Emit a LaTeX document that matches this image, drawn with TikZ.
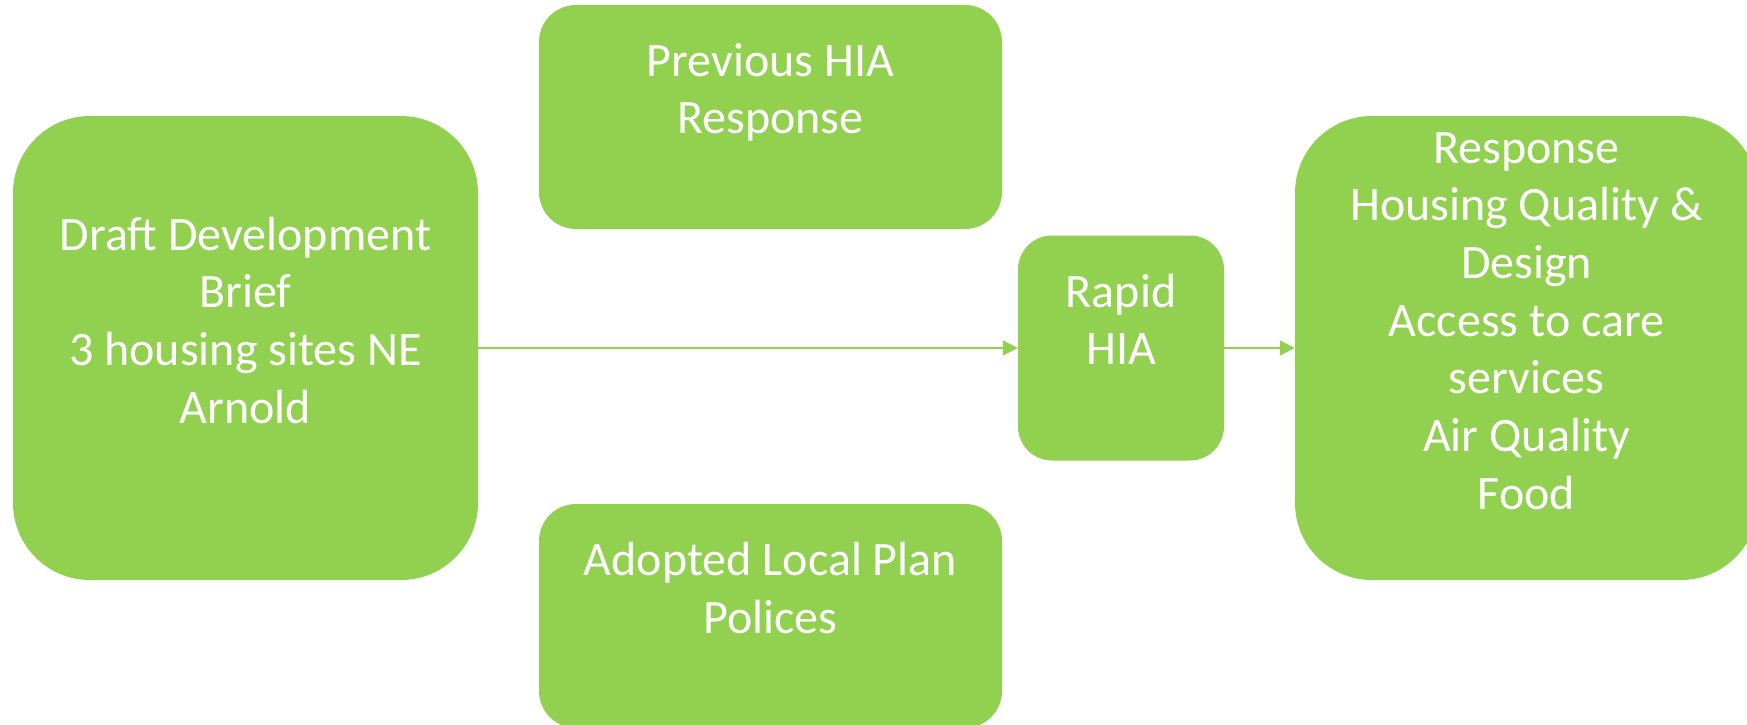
\documentclass[tikz,border=0pt]{standalone}
\usepackage{fontspec}
\setmainfont{Carlito}
\usetikzlibrary{arrows.meta}
\definecolor{hiagreen}{HTML}{92D050}
\begin{document}
\begin{tikzpicture}[x=1pt,y=-1pt,
  box/.style={fill=hiagreen,draw=none,rectangle,inner sep=0pt},
  txt/.style={text=white,align=center,inner sep=0pt,anchor=north,font=\fontsize{48pt}{57.7pt}\selectfont},
  conn/.style={draw=hiagreen,line width=2pt,-{Triangle[length=15pt,width=15pt]}}]
\useasboundingbox (0,0) rectangle (1747,725);
\clip (0,0) rectangle (1747,725);
\node[box,minimum width=465pt,minimum height=464pt,rounded corners=77pt] (brief) at (245.5,348) {};
\node[box,minimum width=463pt,minimum height=224pt,rounded corners=37pt] (prev) at (770.5,117) {};
\node[box,minimum width=463pt,minimum height=224pt,rounded corners=37pt] (adopted) at (770.5,616) {};
\node[box,minimum width=206pt,minimum height=225pt,rounded corners=34pt] (rapid) at (1121,348) {};
\node[box,minimum width=463pt,minimum height=464pt,rounded corners=77pt] (resp) at (1526.5,348) {};
\node[txt] (brieftxt) at (245.5,209.6) {\strut Draft Development\\Brief\\3 housing sites NE\\Arnold};
\node[txt] (prevtxt) at (770.5,35.6) {\strut Previous HIA\\Response};
\node[txt] (adoptedtxt) at (770.5,535) {\strut Adopted Local Plan\\Polices};
\node[txt] (rapidtxt) at (1121,266.6) {\strut Rapid\\HIA};
\node[txt] (resptxt) at (1526.5,122.6) {\strut Response\\Housing Quality \&\\Design\\Access to care\\services\\Air Quality\\Food};
\draw[conn] (brief) -- (rapid);
\draw[conn] (rapid) -- (resp);
\end{tikzpicture}
\end{document}
